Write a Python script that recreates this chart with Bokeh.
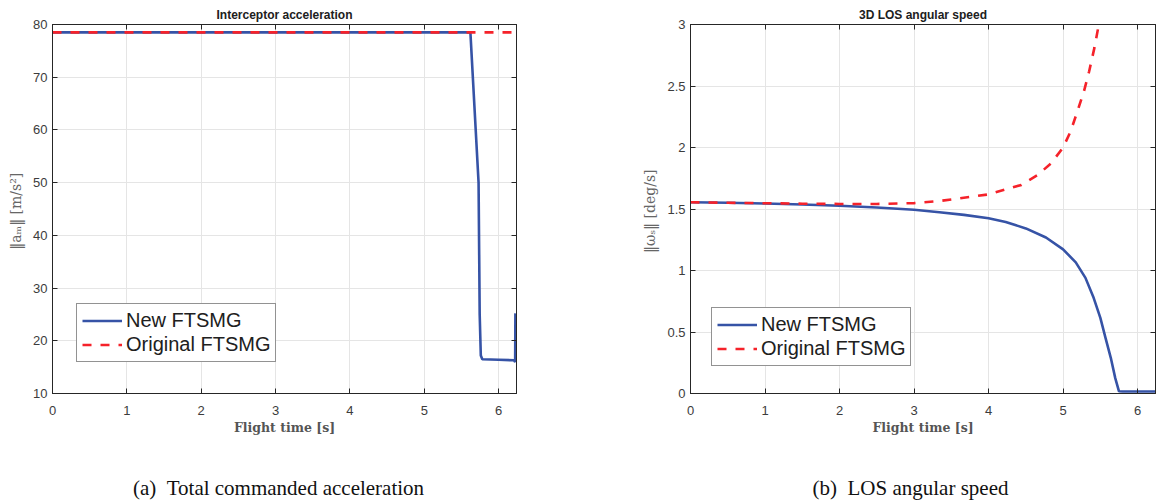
from bokeh.plotting import figure
from bokeh.models import (Range1d, FixedTicker, LinearAxis, Legend, LegendItem,
                          Label, CustomJSTickFormatter)
from bokeh.layouts import row, column
from bokeh.embed import file_html
from bokeh.resources import INLINE

# ---------------- data ----------------
# (a) interceptor acceleration
acc_new_t = [0.0, 5.62, 5.73, 5.745, 5.76, 5.78, 6.0, 6.205, 6.215, 6.222, 6.225]
acc_new_v = [78.5, 78.5, 50.0, 25.0, 17.2, 16.5, 16.4, 16.3, 16.1, 16.0, 25.2]
acc_orig_t = [0.0, 6.24]
acc_orig_v = [78.5, 78.5]

# (b) LOS angular speed
los_new_t = [0.0, 0.5, 1.0, 1.5, 2.0, 2.5, 3.0, 3.34, 3.67, 4.0, 4.23, 4.5, 4.77,
             5.0, 5.17, 5.3, 5.41, 5.5, 5.57, 5.64, 5.7, 5.75, 5.8, 6.24]
los_new_v = [1.555, 1.551, 1.545, 1.537, 1.526, 1.512, 1.494, 1.474, 1.452, 1.425,
             1.395, 1.342, 1.268, 1.172, 1.066, 0.94, 0.778, 0.615, 0.45, 0.29,
             0.125, 0.018, 0.016, 0.016]
los_orig_t = [0.0, 0.5, 1.0, 1.5, 2.0, 2.5, 3.0, 3.34, 3.61, 4.0, 4.44, 4.66, 4.84,
              5.0, 5.1, 5.19, 5.28, 5.35, 5.42, 5.47]
los_orig_v = [1.555, 1.551, 1.547, 1.543, 1.541, 1.541, 1.548, 1.565, 1.586, 1.619,
              1.696, 1.777, 1.872, 2.0, 2.13, 2.29, 2.457, 2.62, 2.81, 2.97]

x_ticks = [0, 1, 2, 3, 4, 5, 6]
acc_y_ticks = [10, 20, 30, 40, 50, 60, 70, 80]
los_y_ticks = [0, 0.5, 1, 1.5, 2, 2.5, 3]

labels = ["New FTSMG", "Original FTSMG"]
titles = ["Interceptor acceleration", "3D LOS angular speed"]
captions = ["(a)\u00a0\u00a0Total commanded acceleration", "(b)\u00a0\u00a0LOS angular speed"]
y_labels = ["\u2016a\u2098\u2016  [m/s\u00b2]", "\u2016\u03c9\u209b\u2016  [deg/s]"]
x_label = "Flight time [s]"

BLUE = "#3653a6"
RED = "#f5222a"
AX = "#262626"
TXT = "#3c3c3c"
GRID = "#e5e5e5"

fmt = CustomJSTickFormatter(code="return String(Number(tick.toFixed(2)));")


def style_axis(ax, ticks, show_labels=True):
    ax.ticker = FixedTicker(ticks=ticks)
    ax.formatter = fmt
    ax.major_tick_in = 5
    ax.major_tick_out = 0
    ax.minor_tick_line_color = None
    ax.axis_line_color = AX
    ax.major_tick_line_color = AX
    ax.major_label_text_font = "Liberation Sans"
    if show_labels:
        ax.major_label_text_color = TXT
        ax.major_label_text_font_size = "13px"
        ax.major_label_standoff = 12
    else:
        ax.major_label_text_color = None
        ax.major_label_text_font_size = "1px"
        ax.major_label_standoff = 0


PLOT_H = 455
CAP_H = 45


def make_fig(width, left, right, yr, yticks, t1, v1, t2, v2, title, ylab, leg_loc):
    p = figure(width=width, height=PLOT_H, output_backend="svg", toolbar_location=None,
               x_range=Range1d(0, 6.24), y_range=Range1d(*yr),
               min_border_left=left, min_border_right=right, min_border_top=24,
               min_border_bottom=PLOT_H - 393, background_fill_color="white",
               border_fill_color="white", outline_line_color=AX)
    p.title.text = title
    p.title.align = "center"
    p.title.text_font = "Liberation Sans"
    p.title.text_font_style = "bold"
    p.title.text_font_size = "12px"
    p.title.text_color = "#202020"
    p.title.standoff = 6
    style_axis(p.xaxis[0], x_ticks)
    style_axis(p.yaxis[0], yticks)
    p.yaxis[0].major_label_standoff = 5
    p.xaxis[0].axis_label = x_label
    p.xaxis[0].axis_label_text_font = "DejaVu Serif"
    p.xaxis[0].axis_label_text_font_style = "bold"
    p.xaxis[0].axis_label_text_font_size = "12.5px"
    p.xaxis[0].axis_label_text_color = "#555555"
    p.xaxis[0].axis_label_standoff = 2
    p.yaxis[0].axis_label = ylab
    p.yaxis[0].axis_label_text_font = "DejaVu Serif"
    p.yaxis[0].axis_label_text_font_style = "normal"
    p.yaxis[0].axis_label_text_font_size = "14px"
    p.yaxis[0].axis_label_text_color = "#666666"
    p.yaxis[0].axis_label_standoff = 6
    top = LinearAxis()
    style_axis(top, x_ticks, show_labels=False)
    p.add_layout(top, "above")
    rgt = LinearAxis()
    style_axis(rgt, yticks, show_labels=False)
    p.add_layout(rgt, "right")
    p.xgrid.ticker = FixedTicker(ticks=x_ticks)
    p.ygrid.ticker = FixedTicker(ticks=yticks)
    p.xgrid.grid_line_color = GRID
    p.ygrid.grid_line_color = GRID
    r1 = p.line(t1, v1, line_color=BLUE, line_width=2.6)
    r2 = p.line(t2, v2, line_color=RED, line_width=2.6, line_dash="9 9")
    leg = Legend(items=[LegendItem(label=labels[0], renderers=[r1]),
                        LegendItem(label=labels[1], renderers=[r2])],
                 location=leg_loc, orientation="vertical",
                 label_text_font="Liberation Sans", label_text_font_size="20px",
                 label_text_color="#202020", glyph_width=40, glyph_height=23,
                 label_height=23, label_standoff=4, padding=5, spacing=1, margin=0,
                 border_line_color=AX, border_line_width=1,
                 background_fill_color="white", background_fill_alpha=1.0)
    p.add_layout(leg, "center")
    return p


def make_caption(width, text, cx):
    c = figure(width=width, height=CAP_H, output_backend="svg", toolbar_location=None,
               x_axis_type=None, y_axis_type=None, x_range=Range1d(0, 1),
               y_range=Range1d(0, 1), min_border=0, outline_line_color=None,
               background_fill_color="white", border_fill_color="white")
    c.add_layout(Label(x=cx, y=CAP_H - 32, x_units="screen", y_units="screen",
                       text=text, text_align="center", text_baseline="middle",
                       text_font="Liberation Serif", text_font_size="21px",
                       text_color="#111111"))
    return c


p1 = make_fig(608, 52, 92, (10, 80), acc_y_ticks, acc_new_t, acc_new_v,
              acc_orig_t, acc_orig_v, titles[0], y_labels[0], (24, 31))
p2 = make_fig(548, 82, 1, (0, 3), los_y_ticks, los_new_t, los_new_v,
              los_orig_t, los_orig_v, titles[1], y_labels[1], (21, 27))
c1 = make_caption(608, captions[0], 278)
c2 = make_caption(548, captions[1], 302)

layout = column(row(p1, p2, spacing=0), row(c1, c2, spacing=0), spacing=0)
open("out.html", "w").write(file_html(layout, INLINE))
